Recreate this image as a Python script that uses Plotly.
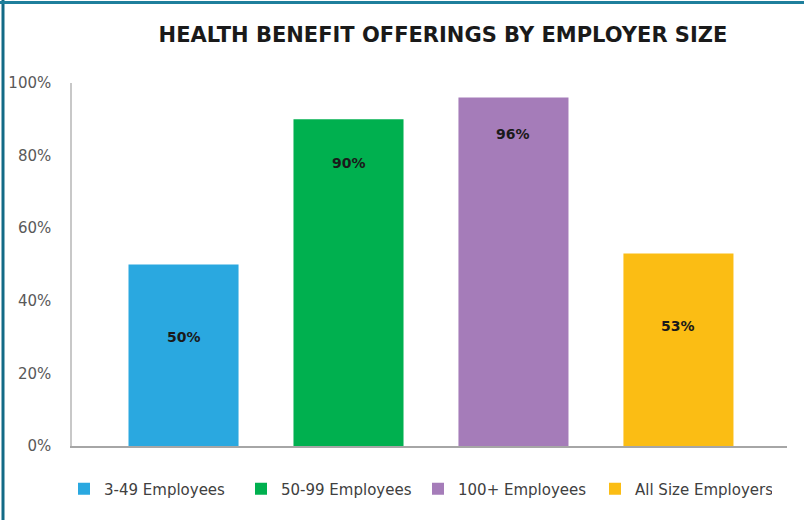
import plotly.graph_objects as go

categories = ["3-49 Employees", "50-99 Employees", "100+ Employees", "All Size Employers"]
values = [50, 90, 96, 53]
label_y = [30, 78, 86, 33]
colors = ["#2aa8e0", "#00b04f", "#a57cb9", "#fbbd14"]
y_ticks = [0, 20, 40, 60, 80, 100]
y_tick_text = ["0%", "20%", "40%", "60%", "80%", "100%"]

W, H = 804, 520
ML, MR, MT, MB = 72, 17, 83, 74
pw = W - ML - MR
ph = H - MT - MB

fig = go.Figure()
for c, v, col in zip(categories, values, colors):
    fig.add_trace(go.Bar(
        x=[c], y=[v], name=c, marker=dict(color=col, line=dict(width=0)),
        width=0.667, hoverinfo="skip",
    ))

for c, v, ly in zip(categories, values, label_y):
    fig.add_annotation(x=c, y=ly, text=f"<b>{v}%</b>", showarrow=False,
                       font=dict(family="DejaVu Sans", size=14, color="#1a1a1a"))

def px_to_paper_x(px):
    return (px - ML) / pw

def px_to_paper_y(py):
    return (H - MB - py) / ph

# frame lines (left and top)
fig.add_shape(type="line", xref="paper", yref="paper",
              x0=px_to_paper_x(3), x1=px_to_paper_x(3),
              y0=px_to_paper_y(0), y1=px_to_paper_y(H),
              line=dict(color="#136a86", width=3))
fig.add_shape(type="line", xref="paper", yref="paper",
              x0=px_to_paper_x(0), x1=px_to_paper_x(W),
              y0=px_to_paper_y(2.5), y1=px_to_paper_y(2.5),
              line=dict(color="#1f7f9c", width=3))

fig.update_layout(
    width=W, height=H,
    margin=dict(l=ML, r=MR, t=MT, b=MB, autoexpand=False),
    paper_bgcolor="white", plot_bgcolor="white",
    barmode="overlay",
    title=dict(text="<b>HEALTH BENEFIT OFFERINGS BY EMPLOYER SIZE</b>",
               x=px_to_paper_x(443), xref="paper", xanchor="center",
               y=1 - 35 / H, yanchor="middle",
               font=dict(family="DejaVu Sans", size=21, color="#1a1a1a")),
    xaxis=dict(range=[-0.676, 3.658], showticklabels=False, showgrid=False,
               zeroline=False, showline=True, linecolor="#a6a6a6", linewidth=2,
               ticks=""),
    yaxis=dict(range=[0, 100], tickvals=y_ticks, ticktext=y_tick_text,
               showgrid=False, zeroline=False, showline=True, linecolor="#c8c8c8",
               linewidth=1.5, ticks="", ticklabelstandoff=16,
               tickfont=dict(family="DejaVu Sans", size=15, color="#595959")),
    showlegend=True,
    legend=dict(orientation="h", xref="container", yref="container",
                x=64 / W, xanchor="left",
                y=1 - 489 / H, yanchor="middle",
                entrywidth=132, entrywidthmode="pixels",
                font=dict(family="DejaVu Sans", size=15, color="#404040"),
                itemclick=False, itemdoubleclick=False),
)

fig.write_html("out.html")
